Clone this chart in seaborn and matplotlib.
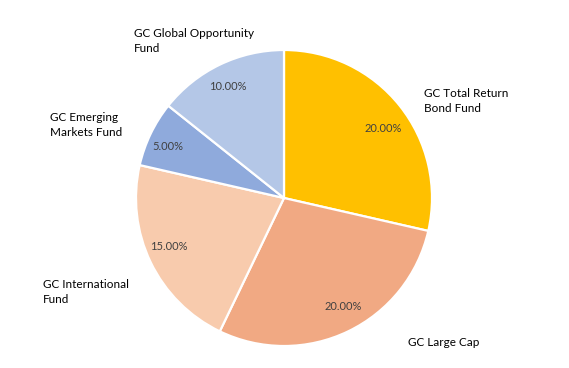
import matplotlib
matplotlib.use("Agg")
import matplotlib.pyplot as plt
import seaborn as sns

funds = ["GC Total Return\nBond Fund", "GC Large Cap", "GC International\nFund",
         "GC Emerging\nMarkets Fund", "GC Global Opportunity\nFund"]
values = [20, 20, 15, 5, 10]
colors = ["#FFC000", "#F1A983", "#F8CBAD", "#8FAADC", "#B4C7E7"]

sns.set_theme(style="white")
plt.rcParams['font.family'] = ['Lato', 'DejaVu Sans']

W, H = 569, 368
fig = plt.figure(figsize=(W / 100, H / 100), dpi=100)
ax = fig.add_axes([0, 0, 1, 1])

total = sum(values)
cx, cy, r = 284, H - 198, 148

wedges, texts, autotexts = ax.pie(
    values, colors=colors, startangle=90, counterclock=False,
    center=(cx, cy), radius=r, frame=True,
    autopct=lambda p: f"{p * total / 100:.2f}%", pctdistance=0.83,
    wedgeprops=dict(edgecolor="white", linewidth=1.6),
    textprops=dict(fontsize=8, color="#404040"))
ax.set_xlim(0, W)
ax.set_ylim(0, H)
ax.set_aspect('equal')
ax.axis('off')

pct_pos = [(383, 128), (343, 306), (169, 247), (168, 146), (228, 86)]
for t, (x, y) in zip(autotexts, pct_pos):
    t.set_position((x, H - y))

label_pos = [(424, 101), (408, 343), (43, 292), (50, 125), (134, 41)]
for name, (x, y) in zip(funds, label_pos):
    ax.text(x, H - y, name, ha="left", va="center", fontsize=8.5,
            color="black", linespacing=1.45)

fig.savefig("out.png", dpi=100)
